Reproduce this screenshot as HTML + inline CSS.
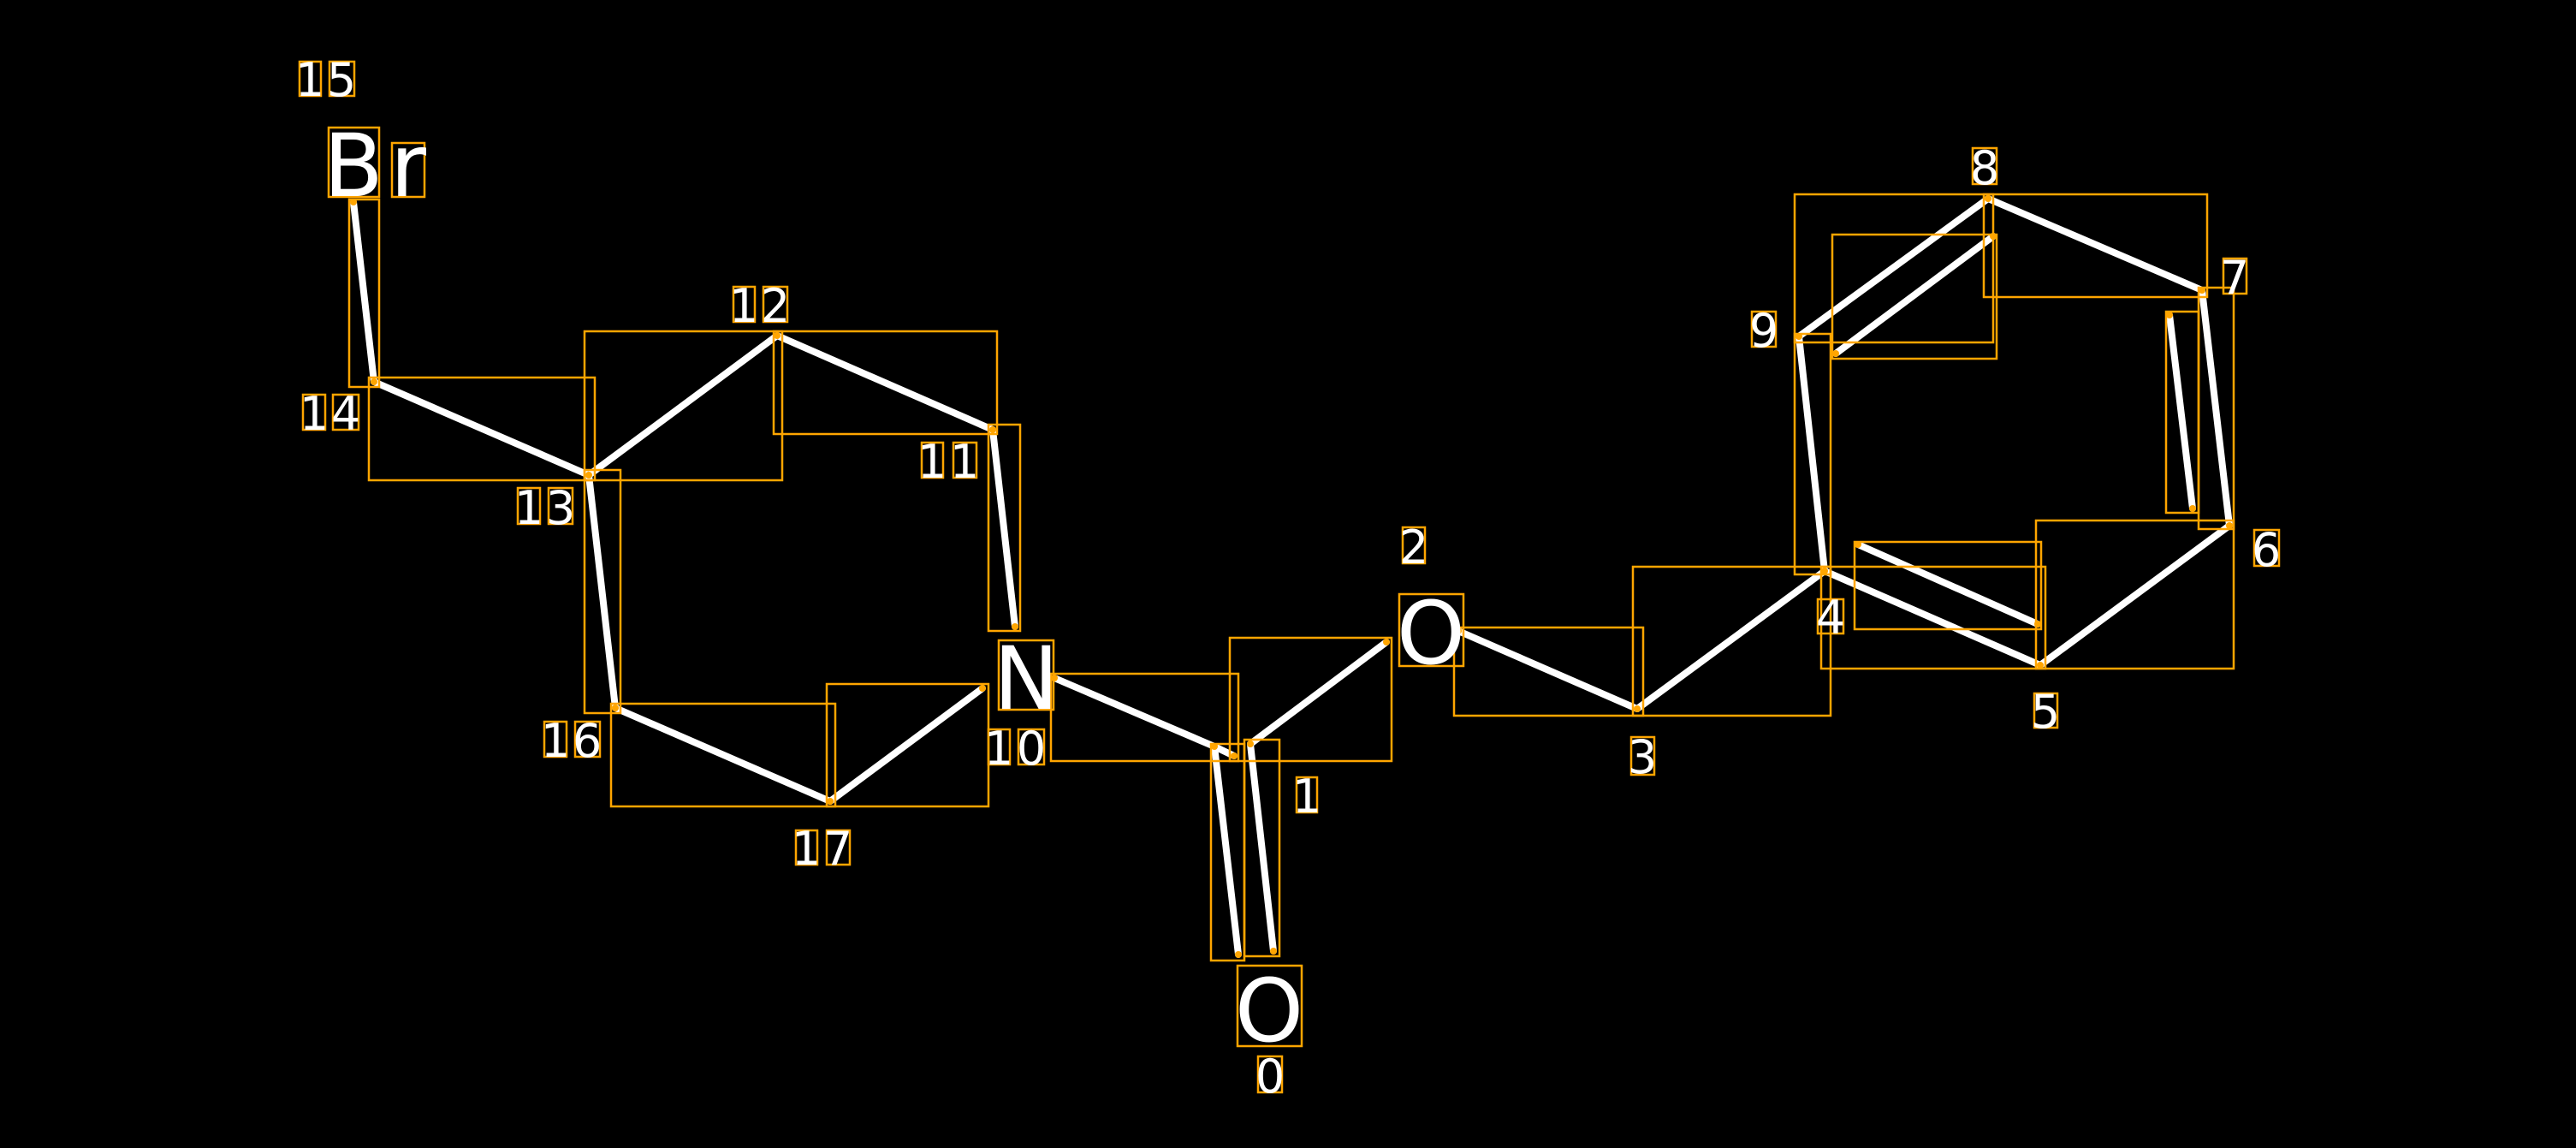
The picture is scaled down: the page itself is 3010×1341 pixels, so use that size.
<!DOCTYPE html>
<html><head><meta charset="utf-8"><style>html,body{margin:0;padding:0;background:#000;width:3010px;height:1341px;overflow:hidden}</style></head>
<body>
<svg width="3010" height="1341" viewBox="0 0 3010 1341" xmlns="http://www.w3.org/2000/svg" font-family="'DejaVu Sans','Liberation Sans',sans-serif">
<rect width="3010" height="1341" fill="#000"/>
<g stroke="#fff" stroke-width="8" stroke-linecap="round">
<line x1="413" y1="236" x2="437" y2="446"/>
<line x1="437" y1="446" x2="688" y2="555"/>
<line x1="688" y1="555" x2="908" y2="392"/>
<line x1="908" y1="392" x2="1160" y2="502"/>
<line x1="1160" y1="502" x2="1186" y2="732"/>
<line x1="688" y1="555" x2="719" y2="827"/>
<line x1="719" y1="827" x2="970" y2="936"/>
<line x1="970" y1="936" x2="1148" y2="804"/>
<line x1="1232" y1="792" x2="1419" y2="872"/>
<line x1="1419" y1="872" x2="1442" y2="883"/>
<line x1="1461" y1="869" x2="1620" y2="750"/>
<line x1="1419" y1="872" x2="1447" y2="1115"/>
<line x1="1461" y1="869" x2="1488" y2="1111"/>
<line x1="1704" y1="737" x2="1913" y2="828"/>
<line x1="1913" y1="828" x2="2132" y2="667"/>
<line x1="2132" y1="667" x2="2102" y2="393"/>
<line x1="2102" y1="393" x2="2323" y2="232"/>
<line x1="2145" y1="413" x2="2329" y2="276"/>
<line x1="2323" y1="232" x2="2573" y2="339"/>
<line x1="2573" y1="339" x2="2605" y2="614"/>
<line x1="2535" y1="368" x2="2562" y2="594"/>
<line x1="2605" y1="614" x2="2384" y2="777"/>
<line x1="2132" y1="667" x2="2384" y2="777"/>
<line x1="2171" y1="636" x2="2381" y2="729"/>
</g>
<g fill="none" stroke="#FFA500" stroke-width="2.5">
<rect x="408" y="233" width="35" height="219"/>
<rect x="431" y="441" width="264" height="120"/>
<rect x="683" y="387" width="231" height="174"/>
<rect x="904" y="387" width="261" height="120"/>
<rect x="1155" y="496" width="37" height="241"/>
<rect x="683" y="549" width="42" height="284"/>
<rect x="714" y="822" width="262" height="120"/>
<rect x="966" y="799" width="189" height="143"/>
<rect x="1228" y="787" width="219" height="102"/>
<rect x="1437" y="745" width="189" height="144"/>
<rect x="1415" y="869" width="39" height="253"/>
<rect x="1454" y="864" width="41" height="253"/>
<rect x="1699" y="733" width="221" height="103"/>
<rect x="1908" y="662" width="231" height="174"/>
<rect x="2097" y="390" width="42" height="281"/>
<rect x="2097" y="227" width="232" height="173"/>
<rect x="2141" y="274" width="192" height="145"/>
<rect x="2318" y="227" width="261" height="120"/>
<rect x="2569" y="336" width="41" height="282"/>
<rect x="2531" y="364" width="38" height="235"/>
<rect x="2379" y="608" width="231" height="173"/>
<rect x="2128" y="662" width="262" height="119"/>
<rect x="2167" y="633" width="218" height="102"/>
<rect x="384" y="149" width="59" height="81"/>
<rect x="458" y="167" width="38" height="63"/>
<rect x="1167" y="748" width="64" height="81"/>
<rect x="1635" y="694" width="75" height="84"/>
<rect x="1446" y="1128" width="75" height="94"/>
<rect x="350" y="72" width="25" height="40"/><rect x="385" y="72" width="29" height="40"/>
<rect x="354" y="461" width="26" height="41"/><rect x="389" y="461" width="30" height="41"/>
<rect x="857" y="335" width="25" height="41"/><rect x="892" y="335" width="28" height="41"/>
<rect x="1077" y="517" width="25" height="41"/><rect x="1114" y="517" width="27" height="41"/>
<rect x="605" y="570" width="26" height="42"/><rect x="641" y="570" width="28" height="42"/>
<rect x="636" y="843" width="26" height="41"/><rect x="672" y="843" width="29" height="41"/>
<rect x="930" y="970" width="25" height="40"/><rect x="966" y="970" width="27" height="40"/>
<rect x="1155" y="852" width="25" height="41"/><rect x="1190" y="852" width="30" height="41"/>
<rect x="1470" y="1234" width="28" height="42"/>
<rect x="1515" y="908" width="24" height="41"/>
<rect x="1639" y="616" width="26" height="42"/>
<rect x="1906" y="861" width="27" height="44"/>
<rect x="2124" y="700" width="30" height="40"/>
<rect x="2377" y="810" width="27" height="40"/>
<rect x="2634" y="619" width="29" height="42"/>
<rect x="2598" y="302" width="27" height="41"/>
<rect x="2305" y="173" width="28" height="42"/>
<rect x="2047" y="364" width="28" height="41"/>
</g>
<g fill="#FFA500">
<circle cx="413" cy="236" r="4"/><circle cx="437" cy="446" r="4"/><circle cx="688" cy="555" r="4"/>
<circle cx="908" cy="392" r="4"/><circle cx="1160" cy="502" r="4"/><circle cx="1186" cy="732" r="4"/>
<circle cx="719" cy="827" r="4"/><circle cx="970" cy="936" r="4"/><circle cx="1148" cy="804" r="4"/>
<circle cx="1232" cy="792" r="4"/><circle cx="1419" cy="872" r="4"/><circle cx="1442" cy="883" r="4"/>
<circle cx="1461" cy="869" r="4"/><circle cx="1620" cy="750" r="4"/><circle cx="1704" cy="737" r="4"/>
<circle cx="1447" cy="1115" r="4"/><circle cx="1488" cy="1111" r="4"/>
<circle cx="1913" cy="828" r="4"/><circle cx="2132" cy="667" r="4"/><circle cx="2102" cy="393" r="4"/>
<circle cx="2323" cy="232" r="4"/><circle cx="2573" cy="339" r="4"/><circle cx="2605" cy="614" r="4"/>
<circle cx="2384" cy="777" r="4"/><circle cx="2145" cy="413" r="4"/><circle cx="2329" cy="276" r="4"/>
<circle cx="2535" cy="368" r="4"/><circle cx="2562" cy="594" r="4"/><circle cx="2171" cy="636" r="4"/><circle cx="2381" cy="729" r="4"/>
</g>
<g fill="#fff" text-anchor="middle" font-size="102">
<text x="413" y="229">B</text><text x="477" y="229">r</text>
<text x="1199" y="828">N</text>
<text x="1672" y="775">O</text>
<text x="1483" y="1216">O</text>
</g>
<g fill="#fff" text-anchor="middle" font-size="54">
<text x="362" y="112">1</text><text x="399" y="112">5</text>
<text x="367" y="502">1</text><text x="404" y="502">4</text>
<text x="869" y="376">1</text><text x="906" y="376">2</text>
<text x="1089" y="558">1</text><text x="1127" y="558">1</text>
<text x="618" y="612">1</text><text x="655" y="612">3</text>
<text x="649" y="884">1</text><text x="686" y="884">6</text>
<text x="942" y="1010">1</text><text x="979" y="1010">7</text>
<text x="1167" y="893">1</text><text x="1205" y="893">0</text>
<text x="1484" y="1276">0</text>
<text x="1527" y="949">1</text>
<text x="1652" y="658">2</text>
<text x="1919" y="903">3</text>
<text x="2139" y="740">4</text>
<text x="2390" y="850">5</text>
<text x="2648" y="661">6</text>
<text x="2611" y="343">7</text>
<text x="2319" y="215">8</text>
<text x="2061" y="405">9</text>
</g>
</svg>
</body></html>
